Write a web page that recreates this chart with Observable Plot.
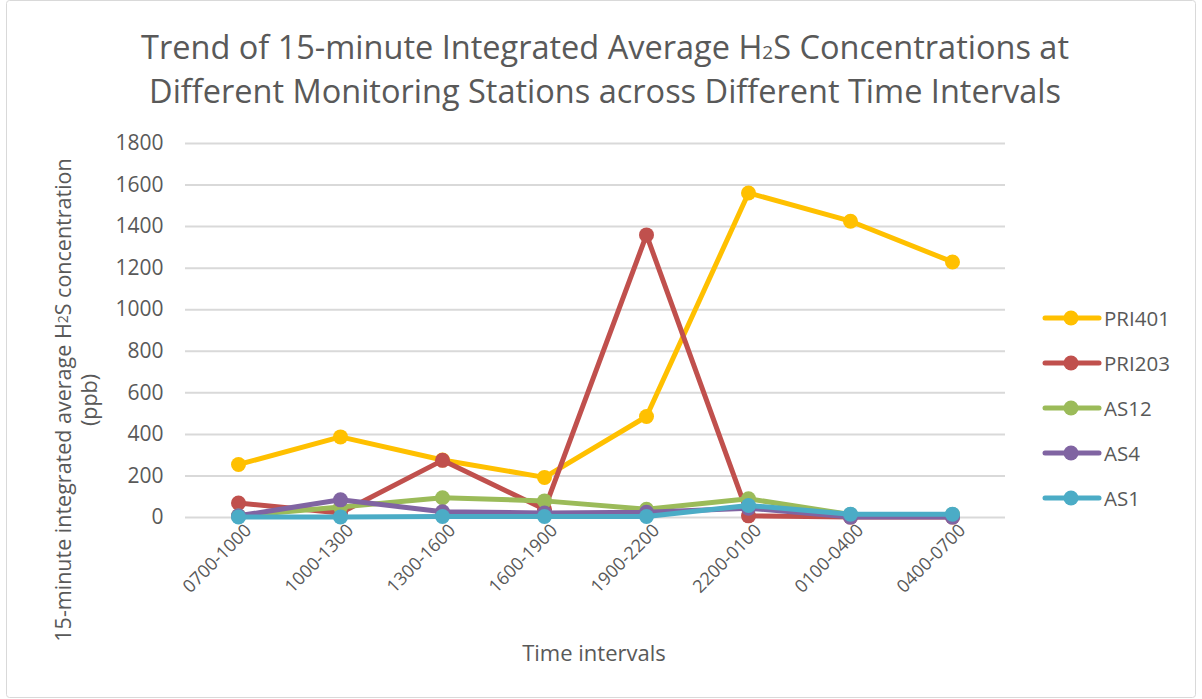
<!DOCTYPE html>
<html><head><meta charset="utf-8">
<script src="https://cdn.jsdelivr.net/npm/d3@7"></script>
<script src="https://cdn.jsdelivr.net/npm/@observablehq/plot@0.6"></script>
<style>body{margin:0;background:#fff} #chart{position:relative;width:1202px;height:699px}</style>
</head><body><div id="chart"></div>
<script>
const categories = ["0700-1000","1000-1300","1300-1600","1600-1900","1900-2200","2200-0100","0100-0400","0400-0700"];
const seriesNames = ["PRI401","PRI203","AS12","AS4","AS1"];
const pri401 = [255, 388, 277, 193, 486, 1562, 1426, 1230];
const pri203 = [70, 22, 275, 40, 1360, 8, 2, 2];
const as12 = [8, 50, 95, 80, 40, 90, 14, 14];
const as4 = [8, 85, 28, 22, 25, 45, 2, 2];
const as1 = [3, 3, 5, 5, 5, 58, 16, 16];
const seriesValues = [pri401, pri203, as12, as4, as1];
const colors = ["#FFC000", "#C0504D", "#9BBB59", "#8064A2", "#4BACC6"];
const yTicks = [0, 200, 400, 600, 800, 1000, 1200, 1400, 1600, 1800];
const titleLines = ["Trend of 15-minute Integrated Average H|2|S Concentrations at", "Different Monitoring Stations across Different Time Intervals"];
const yTitleLines = ["15-minute integrated average H|2|S concentration", "(ppb)"];
const xTitle = "Time intervals";

const data = seriesNames.flatMap((s, i) => seriesValues[i].map((v, j) => ({series: s, time: categories[j], value: v})));

const FONT = "'Open Sans', sans-serif";
const TXT = "#595959";

const plot = Plot.plot({
  width: 1202, height: 699,
  marginLeft: 185, marginRight: 197, marginTop: 143, marginBottom: 182,
  style: {fontFamily: FONT, fontSize: "21px", color: TXT, background: "transparent", overflow: "visible"},
  x: {type: "point", domain: categories, padding: 0.5, label: null, axis: null},
  y: {domain: [0, 1800], ticks: yTicks, label: null, axis: null},
  color: {domain: seriesNames, range: colors},
  marks: [
    Plot.ruleY(yTicks, {stroke: "#d9d9d9", strokeWidth: 2}),
    Plot.axisY({ticks: yTicks, tickFormat: "d", tickSize: 0, tickPadding: 22, label: null, fontSize: 21}),
    Plot.axisX({tickRotate: -45, tickSize: 0, tickPadding: 10, dx: 10, label: null, fontSize: 18}),
    ...seriesNames.flatMap(s => [
      Plot.line(data.filter(d => d.series === s), {x: "time", y: "value", stroke: "series", strokeWidth: 5, strokeLinejoin: "round", strokeLinecap: "round"}),
      Plot.dot(data.filter(d => d.series === s), {x: "time", y: "value", fill: "series", r: 7.5})
    ])
  ]
});
document.getElementById("chart").appendChild(plot);

const svg = d3.select(plot);
svg.append("rect").attr("x", 6.5).attr("y", 0.5).attr("width", 1189).attr("height", 697)
  .attr("fill", "none").attr("stroke", "#d9d9d9").attr("rx", 3);

function addRich(sel, str, subSize) {
  str.split("|").forEach((part, k) => {
    const t = sel.append("tspan").text(part);
    if (k % 2 === 1) t.attr("font-size", subSize);
  });
}

const title = svg.append("g").attr("font-family", FONT).attr("fill", TXT).attr("font-size", 32.5).attr("text-anchor", "middle");
titleLines.forEach((l, i) => addRich(title.append("text").attr("x", 605).attr("y", 59 + i * 44), l, 19));

const yt = svg.append("g").attr("font-family", FONT).attr("fill", TXT).attr("font-size", 21.5).attr("text-anchor", "middle");
yTitleLines.forEach((l, i) => addRich(
  yt.append("text").attr("transform", `translate(${62 + i * 26},400) rotate(-90)`).attr("dominant-baseline", "central"), l, 14));

svg.append("text").attr("x", 594).attr("y", 652).attr("dominant-baseline", "central").attr("text-anchor", "middle")
  .attr("font-family", FONT).attr("fill", TXT).attr("font-size", 22).text(xTitle);

const lg = svg.append("g").attr("font-family", FONT).attr("fill", TXT).attr("font-size", 20.5).attr("text-anchor", "start");
seriesNames.forEach((s, i) => {
  const y = 318 + i * 45;
  lg.append("line").attr("x1", 1045).attr("x2", 1099).attr("y1", y).attr("y2", y)
    .attr("stroke", colors[i]).attr("stroke-width", 5).attr("stroke-linecap", "round");
  lg.append("circle").attr("cx", 1071).attr("cy", y).attr("r", 7.5).attr("fill", colors[i]);
  lg.append("text").attr("x", 1104).attr("y", y).attr("dominant-baseline", "central").text(s);
});
</script></body></html>
